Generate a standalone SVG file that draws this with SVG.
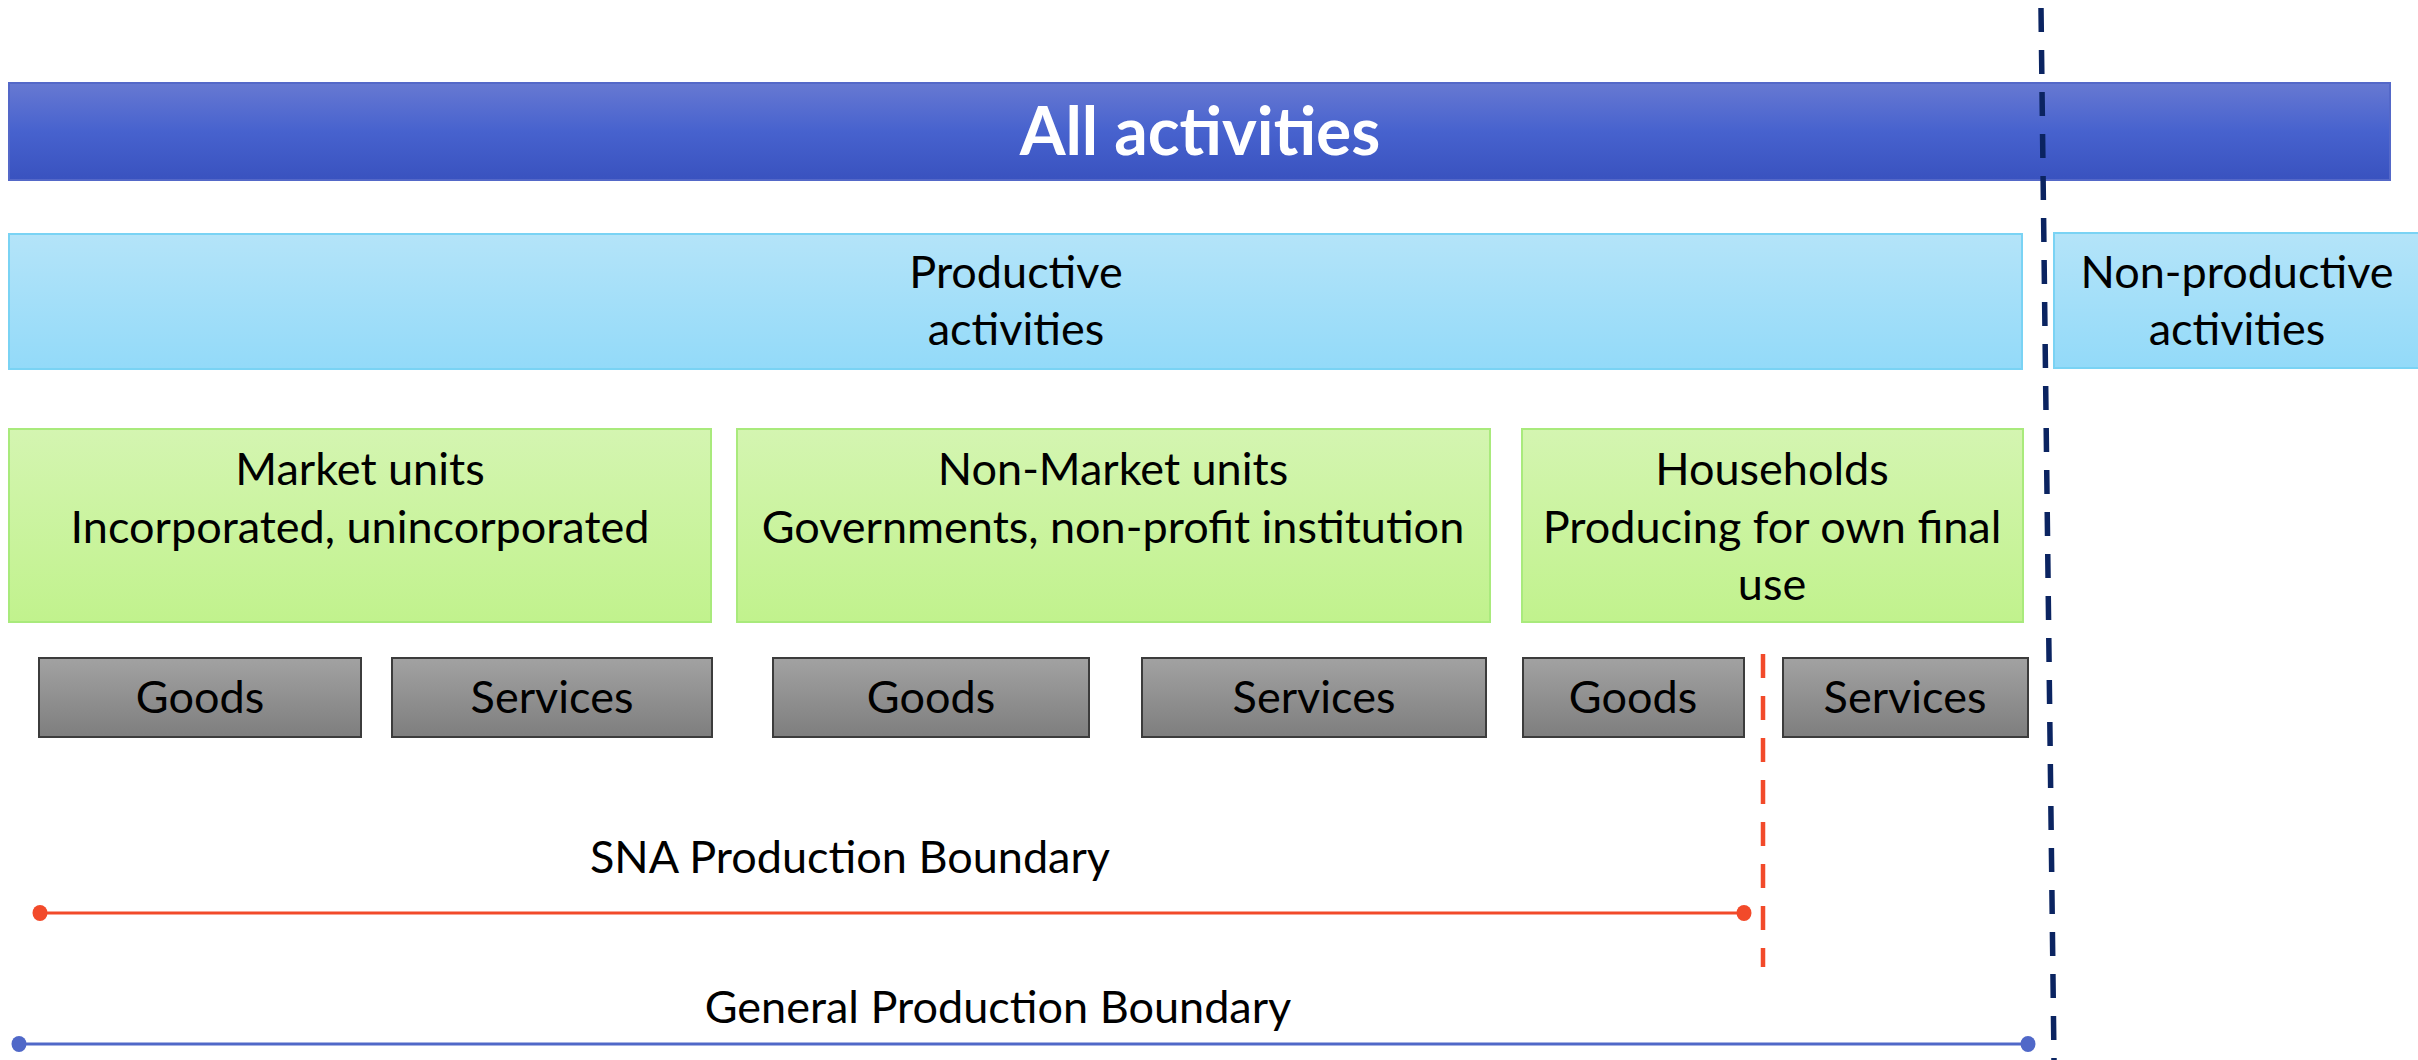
<svg xmlns="http://www.w3.org/2000/svg" width="2418" height="1060" viewBox="0 0 2418 1060">
<defs>
<linearGradient id="gBlue" x1="0" y1="0" x2="0" y2="1"><stop offset="0" stop-color="#6779D2"/><stop offset="0.5" stop-color="#4762CE"/><stop offset="1" stop-color="#3952BF"/></linearGradient>
<linearGradient id="gSky" x1="0" y1="0" x2="0" y2="1"><stop offset="0" stop-color="#B4E4F9"/><stop offset="1" stop-color="#93DAF9"/></linearGradient>
<linearGradient id="gGreen" x1="0" y1="0" x2="0" y2="1"><stop offset="0" stop-color="#D4F5B1"/><stop offset="1" stop-color="#C1F28D"/></linearGradient>
<linearGradient id="gGray" x1="0" y1="0" x2="0" y2="1"><stop offset="0" stop-color="#A2A2A2"/><stop offset="1" stop-color="#7E7E7E"/></linearGradient>
</defs>
<style>
text{font-family:Lato,"Liberation Sans",sans-serif;font-size:45px;fill:#000;text-anchor:middle}
.title{font-weight:bold;font-size:66px;fill:#fff}
.blue{fill:url(#gBlue);stroke:#5468C8;stroke-width:2}
.sky{fill:url(#gSky);stroke:#7AD3F4;stroke-width:2}
.green{fill:url(#gGreen);stroke:#A9EA7C;stroke-width:2}
.gray{fill:url(#gGray);stroke:#3C3C3C;stroke-width:2}
.dash{fill:none;stroke-dasharray:24 18}
</style>
<rect width="2418" height="1060" fill="#fff"/>
<g id="all-activities"><rect class="blue" x="9" y="83" width="2381" height="97"/><text class="title" x="1200" y="155">All activities</text></g>
<g id="productive"><rect class="sky" x="9" y="234" width="2013" height="135"/><text x="1016" y="288">Productive</text><text x="1016" y="345">activities</text></g>
<g id="non-productive"><rect class="sky" x="2054" y="233" width="370" height="135"/><text x="2237" y="288">Non-productive</text><text x="2237" y="345">activities</text></g>
<g id="market"><rect class="green" x="9" y="429" width="702" height="193"/><text x="360" y="485">Market units</text><text x="360" y="543">Incorporated, unincorporated</text></g>
<g id="non-market"><rect class="green" x="737" y="429" width="753" height="193"/><text x="1113" y="485">Non-Market units</text><text x="1113" y="543">Governments, non-profit institution</text></g>
<g id="households"><rect class="green" x="1522" y="429" width="501" height="193"/><text x="1772" y="485">Households</text><text x="1772" y="543">Producing for own final</text><text x="1772" y="600">use</text></g>
<g id="market-goods"><rect class="gray" x="39" y="658" width="322" height="79"/><text x="200" y="713">Goods</text></g>
<g id="market-services"><rect class="gray" x="392" y="658" width="320" height="79"/><text x="552" y="713">Services</text></g>
<g id="nonmarket-goods"><rect class="gray" x="773" y="658" width="316" height="79"/><text x="931" y="713">Goods</text></g>
<g id="nonmarket-services"><rect class="gray" x="1142" y="658" width="344" height="79"/><text x="1314" y="713">Services</text></g>
<g id="households-goods"><rect class="gray" x="1523" y="658" width="221" height="79"/><text x="1633" y="713">Goods</text></g>
<g id="households-services"><rect class="gray" x="1783" y="658" width="245" height="79"/><text x="1905" y="713">Services</text></g>
<g id="connectors">
<line class="dash" x1="2041" y1="8" x2="2054" y2="1060" stroke="#0B2461" stroke-width="5.5"/>
<line class="dash" x1="1763" y1="654" x2="1763" y2="967" stroke="#F24A2A" stroke-width="4.5"/>
<line x1="40" y1="913" x2="1744" y2="913" stroke="#F24A2A" stroke-width="3"/>
<ellipse cx="40" cy="913" rx="7.5" ry="8" fill="#F24A2A"/>
<ellipse cx="1744" cy="913" rx="7.5" ry="8" fill="#F24A2A"/>
<line x1="19" y1="1044" x2="2028" y2="1044" stroke="#5068C8" stroke-width="3"/>
<ellipse cx="19" cy="1044" rx="7.5" ry="8" fill="#5068C8"/>
<ellipse cx="2028" cy="1044" rx="7.5" ry="8" fill="#5068C8"/>
</g>
<g id="labels">
<text x="850" y="873">SNA Production Boundary</text>
<text x="998" y="1023">General Production Boundary</text>
</g>
</svg>
